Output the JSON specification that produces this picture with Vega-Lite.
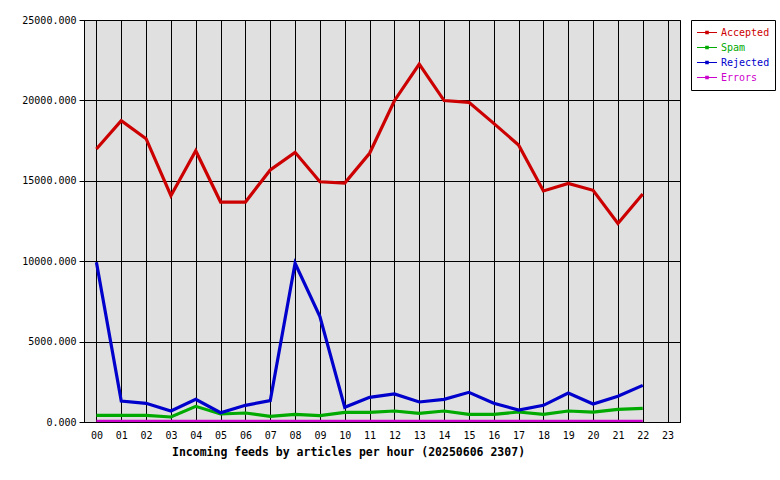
{
  "$schema": "https://vega.github.io/schema/vega-lite/v6.json",
  "width": 596,
  "height": 402,
  "autosize": {"type": "none"},
  "padding": {"left": 84, "top": 20, "right": 100, "bottom": 58},
  "background": "white",
  "config": {
    "view": {"fill": "#e0e0e0", "stroke": "black", "strokeWidth": 1},
    "font": "DejaVu Sans Mono",
    "axis": {
      "labelFont": "DejaVu Sans Mono",
      "labelFontSize": 10,
      "labelColor": "black",
      "domainColor": "black",
      "gridColor": "black",
      "gridOpacity": 1,
      "gridWidth": 1,
      "tickColor": "black"
    }
  },
  "data": {
    "values": [
      {"hour": "00", "series": "Accepted", "value": 16980},
      {"hour": "01", "series": "Accepted", "value": 18740},
      {"hour": "02", "series": "Accepted", "value": 17620},
      {"hour": "03", "series": "Accepted", "value": 14070},
      {"hour": "04", "series": "Accepted", "value": 16870},
      {"hour": "05", "series": "Accepted", "value": 13680},
      {"hour": "06", "series": "Accepted", "value": 13680},
      {"hour": "07", "series": "Accepted", "value": 15670},
      {"hour": "08", "series": "Accepted", "value": 16770},
      {"hour": "09", "series": "Accepted", "value": 14940},
      {"hour": "10", "series": "Accepted", "value": 14860},
      {"hour": "11", "series": "Accepted", "value": 16710},
      {"hour": "12", "series": "Accepted", "value": 19980},
      {"hour": "13", "series": "Accepted", "value": 22260},
      {"hour": "14", "series": "Accepted", "value": 19990},
      {"hour": "15", "series": "Accepted", "value": 19880},
      {"hour": "16", "series": "Accepted", "value": 18570},
      {"hour": "17", "series": "Accepted", "value": 17230},
      {"hour": "18", "series": "Accepted", "value": 14370},
      {"hour": "19", "series": "Accepted", "value": 14840},
      {"hour": "20", "series": "Accepted", "value": 14410},
      {"hour": "21", "series": "Accepted", "value": 12350},
      {"hour": "22", "series": "Accepted", "value": 14180},
      {"hour": "00", "series": "Spam", "value": 415},
      {"hour": "01", "series": "Spam", "value": 415},
      {"hour": "02", "series": "Spam", "value": 410},
      {"hour": "03", "series": "Spam", "value": 311},
      {"hour": "04", "series": "Spam", "value": 974},
      {"hour": "05", "series": "Spam", "value": 497},
      {"hour": "06", "series": "Spam", "value": 560},
      {"hour": "07", "series": "Spam", "value": 352},
      {"hour": "08", "series": "Spam", "value": 478},
      {"hour": "09", "series": "Spam", "value": 394},
      {"hour": "10", "series": "Spam", "value": 601},
      {"hour": "11", "series": "Spam", "value": 600},
      {"hour": "12", "series": "Spam", "value": 684},
      {"hour": "13", "series": "Spam", "value": 539},
      {"hour": "14", "series": "Spam", "value": 684},
      {"hour": "15", "series": "Spam", "value": 477},
      {"hour": "16", "series": "Spam", "value": 477},
      {"hour": "17", "series": "Spam", "value": 622},
      {"hour": "18", "series": "Spam", "value": 477},
      {"hour": "19", "series": "Spam", "value": 684},
      {"hour": "20", "series": "Spam", "value": 612},
      {"hour": "21", "series": "Spam", "value": 790},
      {"hour": "22", "series": "Spam", "value": 850},
      {"hour": "00", "series": "Rejected", "value": 9930},
      {"hour": "01", "series": "Rejected", "value": 1306},
      {"hour": "02", "series": "Rejected", "value": 1161},
      {"hour": "03", "series": "Rejected", "value": 684},
      {"hour": "04", "series": "Rejected", "value": 1410},
      {"hour": "05", "series": "Rejected", "value": 580},
      {"hour": "06", "series": "Rejected", "value": 1037},
      {"hour": "07", "series": "Rejected", "value": 1327},
      {"hour": "08", "series": "Rejected", "value": 9870},
      {"hour": "09", "series": "Rejected", "value": 6550},
      {"hour": "10", "series": "Rejected", "value": 912},
      {"hour": "11", "series": "Rejected", "value": 1534},
      {"hour": "12", "series": "Rejected", "value": 1741},
      {"hour": "13", "series": "Rejected", "value": 1244},
      {"hour": "14", "series": "Rejected", "value": 1410},
      {"hour": "15", "series": "Rejected", "value": 1845},
      {"hour": "16", "series": "Rejected", "value": 1161},
      {"hour": "17", "series": "Rejected", "value": 746},
      {"hour": "18", "series": "Rejected", "value": 1037},
      {"hour": "19", "series": "Rejected", "value": 1803},
      {"hour": "20", "series": "Rejected", "value": 1119},
      {"hour": "21", "series": "Rejected", "value": 1596},
      {"hour": "22", "series": "Rejected", "value": 2280},
      {"hour": "00", "series": "Errors", "value": 40},
      {"hour": "01", "series": "Errors", "value": 40},
      {"hour": "02", "series": "Errors", "value": 40},
      {"hour": "03", "series": "Errors", "value": 40},
      {"hour": "04", "series": "Errors", "value": 40},
      {"hour": "05", "series": "Errors", "value": 40},
      {"hour": "06", "series": "Errors", "value": 40},
      {"hour": "07", "series": "Errors", "value": 40},
      {"hour": "08", "series": "Errors", "value": 40},
      {"hour": "09", "series": "Errors", "value": 40},
      {"hour": "10", "series": "Errors", "value": 40},
      {"hour": "11", "series": "Errors", "value": 40},
      {"hour": "12", "series": "Errors", "value": 40},
      {"hour": "13", "series": "Errors", "value": 40},
      {"hour": "14", "series": "Errors", "value": 40},
      {"hour": "15", "series": "Errors", "value": 40},
      {"hour": "16", "series": "Errors", "value": 40},
      {"hour": "17", "series": "Errors", "value": 40},
      {"hour": "18", "series": "Errors", "value": 40},
      {"hour": "19", "series": "Errors", "value": 40},
      {"hour": "20", "series": "Errors", "value": 40},
      {"hour": "21", "series": "Errors", "value": 40},
      {"hour": "22", "series": "Errors", "value": 40}
    ]
  },
  "mark": {"type": "line", "strokeWidth": 3.2, "clip": true},
  "encoding": {
    "x": {
      "field": "hour",
      "type": "ordinal",
      "scale": {
        "type": "point",
        "padding": 0.5,
        "domain": ["00","01","02","03","04","05","06","07","08","09","10","11","12","13","14","15","16","17","18","19","20","21","22","23"]
      },
      "axis": {
        "title": "Incoming feeds by articles per hour (20250606 2307)",
        "titleFont": "DejaVu Sans Mono",
        "titleFontSize": 11.5,
        "titleFontWeight": "bold",
        "titleColor": "black",
        "titleX": 264,
        "titleY": 30,
        "titleAlign": "center",
        "titleBaseline": "middle",
        "labelAngle": 0,
        "labelPadding": 8,
        "ticks": false,
        "grid": true,
        "domain": true
      }
    },
    "y": {
      "field": "value",
      "type": "quantitative",
      "scale": {"domain": [0, 25000], "nice": false},
      "axis": {
        "title": null,
        "values": [0, 5000, 10000, 15000, 20000, 25000],
        "format": ".3f",
        "tickSize": 5,
        "labelPadding": 3,
        "grid": true
      }
    },
    "color": {
      "field": "series",
      "type": "nominal",
      "sort": ["Accepted", "Spam", "Rejected", "Errors"],
      "scale": {
        "domain": ["Accepted", "Spam", "Rejected", "Errors"],
        "range": ["#cc0000", "#00aa00", "#0000cc", "#cc00cc"]
      },
      "legend": {
        "title": null,
        "orient": "none",
        "legendX": 607,
        "legendY": 0,
        "padding": 5,
        "fillColor": "white",
        "strokeColor": "black",
        "cornerRadius": 0,
        "symbolType": "M-1,0H1M-0.12,-0.12H0.12V0.12H-0.12Z",
        "symbolSize": 400,
        "symbolStrokeWidth": 1.2,
        "clipHeight": 15,
        "rowPadding": 0,
        "labelOffset": 3,
        "labelFont": "DejaVu Sans Mono",
        "labelFontSize": 10,
        "encode": {
          "symbols": {"update": {"fill": {"value": "transparent"}}},
          "labels": {"update": {"fill": {"scale": "color", "field": "value"}}}
        }
      }
    }
  }
}
